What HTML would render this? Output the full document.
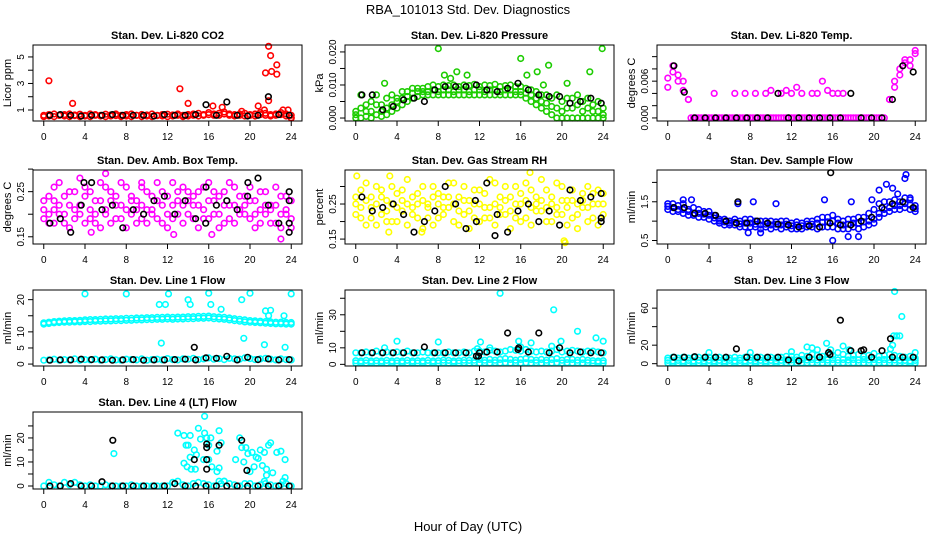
<!DOCTYPE html>
<html><head><meta charset="utf-8">
<style>
body{margin:0;background:#fff;}
svg{display:block;font-family:"Liberation Sans",Arial,sans-serif;}
</style></head>
<body>
<svg id="chart" width="936" height="540" viewBox="0 0 936 540">
<rect x="0" y="0" width="936" height="540" fill="#fff"/>
<text x="468" y="14" font-size="13" text-anchor="middle">RBA_101013  Std. Dev. Diagnostics</text>
<text x="468" y="531" font-size="13" text-anchor="middle">Hour of Day (UTC)</text>
</svg>
<script>
// ---------- data (hour-of-day series; even arrays span 0..24, black arrays span 0.6..23.8) ----------
const xTicks = [0,4,8,12,16,20,24];

const co2Red = [0.6,0.65,0.7,0.6,0.65,0.7,0.62,0.68,0.6,0.7,0.65,0.6,0.68,0.62,0.7,0.6,0.65,0.7,0.6,0.66,0.62,0.7,0.6,0.65,0.68,0.62,0.7,0.6,0.66,0.7,0.75,0.65,0.8,0.7,0.75,0.85,0.7,0.65,0.7,0.75,0.65,0.7,0.8,0.75,0.65,0.7,0.8,0.7,0.6];
const co2Red2 = [0.5,0.55,0.5,0.6,0.55,0.5,0.58,0.5,0.55,0.5,0.6,0.55,0.5,0.55,0.58,0.5,0.55,0.5,0.6,0.5,0.55,0.5,0.58,0.55,0.5,0.55,0.6,0.5,0.55,0.6,0.55,0.6,0.65,0.6,0.6,0.7,0.6,0.55,0.6,0.55,0.6,0.55,0.65,0.6,0.55,0.6,0.65,0.55,0.4];
const co2RedOut = [[0.5,3.2],[2.8,1.5],[13.2,2.6],[14,1.5],[16.4,1.3],[17.3,1.2],[20.8,1.3],[21.5,3.8],[21.8,5.8],[22,5.1],[22.1,3.9],[22.6,4.4],[22.6,3.7],[21.8,1.7],[19.2,0.9],[23.2,1],[23.7,1],[24,0.4],[21.4,1.0]];
const co2Black = [0.6,0.65,0.6,0.55,0.6,0.6,0.65,0.6,0.6,0.6,0.55,0.65,0.6,0.6,0.65,1.4,0.6,1.6,0.6,0.55,0.6,2.0,0.65,0.6];

const presLow = [0,0,0.0005,0,0.001,0.0005,0.001,0.002,0.003,0.004,0.005,0.006,0.0065,0.007,0.007,0.007,0.007,0.007,0.007,0.007,0.007,0.007,0.007,0.007,0.007,0.007,0.007,0.007,0.007,0.007,0.007,0.007,0.007,0.006,0.005,0.004,0.003,0.002,0.001,0,0,0,0,0,0,0,0,0,0];
const presHigh = [0.002,0.007,0.004,0.005,0.007,0.004,0.006,0.007,0.006,0.008,0.008,0.009,0.009,0.009,0.0095,0.01,0.0095,0.01,0.0098,0.01,0.0095,0.01,0.0098,0.0102,0.0095,0.01,0.0098,0.0102,0.0095,0.0098,0.01,0.0095,0.0095,0.009,0.0085,0.008,0.007,0.007,0.006,0.007,0.005,0.006,0.006,0.007,0.005,0.006,0.004,0.005,0.003];
const presMid = [0.001,0.003,0.002,0.002,0.004,0.002,0.003,0.004,0.005,0.006,0.0065,0.0075,0.008,0.008,0.008,0.0085,0.008,0.0085,0.0085,0.008,0.0085,0.0085,0.008,0.0085,0.0085,0.008,0.0085,0.0085,0.008,0.0085,0.0085,0.008,0.008,0.0075,0.007,0.006,0.005,0.0045,0.0035,0.003,0.002,0.003,0.003,0.004,0.002,0.003,0.002,0.002,0.001];
const presOut = [[8,0.021],[8.6,0.013],[9.8,0.014],[10.8,0.013],[16,0.018],[16.6,0.013],[17.6,0.014],[18.7,0.016],[20.5,0.0105],[22.7,0.014],[23.9,0.021],[2.8,0.0105],[9.2,0.012],[18.2,0.01]];
const presBlack = [0.007,0.007,0.0025,0.0035,0.0055,0.006,0.005,0.0085,0.0095,0.0095,0.0095,0.01,0.0085,0.008,0.009,0.0105,0.0085,0.007,0.0065,0.0065,0.0045,0.005,0.006,0.0045];

const tempMain = [0.005,0.0075,0.007,0.006,0.003,0,0,0,0,0,0,0,0,0,0,0,0,0,0,0,0,0,0,0,0,0,0,0,0,0,0,0,0,0,0,0,0,0,0,0,0,0,0,0.003,0.005,0.007,0.009,0.0095,0.011];
const tempZero = [null,null,null,null,0,0,0,0,0,0,0,0,0,0,0,0,0,0,0,0,0,0,0,0,0,0,0,0,0,0,0,0,0,0,0,0,0,0,0,0,0,0,null,null,null,null,null,null,null];
const tempAlt = [0.0065,0.0085,0.006,0.0045,0.003,null,null,null,null,0.004,null,null,null,0.004,null,0.004,null,0.004,null,0.004,0.0045,null,0.004,0.0045,0.004,0.005,0.004,null,0.004,0.004,0.006,0.0045,0.004,0.004,0.004,null,null,null,null,null,null,null,null,0.003,0.006,0.008,0.0095,0.0085,0.0105];
const tempBlack = [0.0085,0.0042,0,0,0,0,0,0,0,0,0.004,0,0,0,0,0,0,0.004,0,0,0,0.003,0.0085,0.0075];

const ambA = [0.19,0.24,0.21,0.27,0.18,0.22,0.25,0.20,0.26,0.19,0.23,0.27,0.21,0.18,0.24,0.22,0.26,0.20,0.23,0.19,0.25,0.21,0.27,0.18,0.24,0.22,0.20,0.26,0.23,0.19,0.25,0.21,0.27,0.20,0.24,0.18,0.22,0.26,0.21,0.24,0.19,0.23,0.25,0.20,0.22,0.18,0.24,0.21,0.23];
const ambB = [0.23,0.18,0.26,0.20,0.24,0.17,0.21,0.28,0.18,0.25,0.20,0.17,0.26,0.23,0.19,0.27,0.17,0.24,0.21,0.26,0.18,0.24,0.19,0.22,0.17,0.27,0.23,0.18,0.25,0.22,0.17,0.26,0.19,0.23,0.17,0.25,0.27,0.18,0.24,0.20,0.26,0.17,0.21,0.25,0.18,0.26,0.17,0.20,0.19];
const ambC = [0.21,0.2,0.23,0.22,0.2,0.25,0.19,0.22,0.24,0.21,0.18,0.23,0.2,0.25,0.22,0.19,0.21,0.23,0.18,0.22,0.21,0.2,0.23,0.25,0.2,0.19,0.25,0.22,0.2,0.24,0.22,0.19,0.23,0.25,0.2,0.22,0.19,0.22,0.2,0.22,0.23,0.2,0.18,0.22,0.21,0.22,0.2,0.24,0.17];
const ambOut = [[6,0.29],[13.8,0.305],[4.6,0.16],[16.3,0.155],[23,0.145],[12.6,0.155],[1,0.18],[9.5,0.27]];
const ambBlack = [0.18,0.19,0.16,0.22,0.27,0.21,0.22,0.17,0.21,0.2,0.23,0.24,0.2,0.23,0.19,0.26,0.22,0.23,0.21,0.24,0.28,0.22,0.18,0.16];
const ambBlackOut = [[23.8,0.25],[23.8,0.23],[23.8,0.18],[3.9,0.27],[15.7,0.18],[19.8,0.27]];

const rhA = [0.27,0.21,0.31,0.24,0.19,0.29,0.23,0.3,0.2,0.26,0.32,0.22,0.28,0.18,0.25,0.3,0.21,0.27,0.24,0.31,0.19,0.26,0.23,0.29,0.2,0.28,0.24,0.31,0.22,0.26,0.18,0.3,0.25,0.21,0.29,0.23,0.32,0.2,0.27,0.24,0.3,0.19,0.26,0.22,0.28,0.2,0.25,0.29,0.22];
const rhB = [0.22,0.29,0.19,0.27,0.3,0.22,0.26,0.2,0.28,0.23,0.19,0.27,0.21,0.3,0.24,0.19,0.28,0.22,0.31,0.2,0.27,0.3,0.18,0.25,0.29,0.21,0.32,0.19,0.27,0.3,0.23,0.21,0.28,0.31,0.19,0.27,0.23,0.29,0.2,0.31,0.22,0.26,0.29,0.18,0.24,0.3,0.21,0.19,0.28];
const rhC = [0.25,0.24,0.26,0.21,0.25,0.27,0.2,0.25,0.24,0.29,0.25,0.24,0.25,0.26,0.21,0.27,0.25,0.24,0.27,0.25,0.23,0.22,0.26,0.21,0.25,0.24,0.21,0.25,0.24,0.22,0.27,0.25,0.2,0.26,0.24,0.25,0.26,0.24,0.25,0.22,0.26,0.24,0.21,0.25,0.26,0.24,0.28,0.25,0.25];
const rhOut = [[0.1,0.33],[3.3,0.33],[16.9,0.34],[20.2,0.145],[20.3,0.14],[3.2,0.17],[6.4,0.17]];
const rhBlack = [0.27,0.23,0.24,0.25,0.22,0.17,0.2,0.23,0.3,0.25,0.18,0.2,0.31,0.22,0.17,0.23,0.25,0.2,0.23,0.19,0.29,0.26,0.27,0.2];
const rhBlackOut = [[23.8,0.28],[23.8,0.21],[11.6,0.26],[13.5,0.16]];

const flowHigh = [1.45,1.45,1.4,1.45,1.3,1.35,1.3,1.25,1.25,1.15,1.05,1.05,1.0,1.05,1.0,1.05,1.05,1.0,1.0,1.0,1.0,0.98,1.0,1.0,0.95,0.98,0.95,1.0,1.0,1.05,1.1,1.1,1.15,1.05,1.0,1.05,1.05,1.1,1.1,1.2,1.3,1.45,1.5,1.5,1.55,1.5,1.6,1.55,1.4];
const flowLow = [1.3,1.25,1.25,1.2,1.15,1.15,1.1,1.1,1.05,1.0,0.95,0.9,0.9,0.9,0.85,0.85,0.85,0.85,0.8,0.85,0.8,0.85,0.8,0.85,0.8,0.8,0.8,0.85,0.85,0.8,0.85,0.85,0.85,0.8,0.8,0.8,0.85,0.8,0.85,0.9,0.95,1.1,1.2,1.25,1.3,1.3,1.35,1.3,1.25];
const flowMid = [1.38,1.35,1.3,1.3,1.25,1.2,1.2,1.18,1.15,1.08,1.0,0.98,0.95,0.97,0.93,0.95,0.95,0.92,0.9,0.92,0.9,0.92,0.9,0.92,0.88,0.9,0.88,0.92,0.92,0.95,0.97,0.98,1.0,0.95,0.9,0.92,0.95,0.95,0.98,1.0,1.05,1.2,1.3,1.35,1.4,1.4,1.45,1.42,1.32];
const flowOut = [[1.5,1.55],[2.3,1.55],[6.8,1.45],[8.3,1.5],[10.5,1.45],[16,0.5],[15.2,1.55],[17.8,1.5],[17.5,0.6],[18.5,0.6],[19.8,1.55],[20.5,1.8],[21.2,1.95],[21.8,1.85],[22.3,1.7],[23,2.1],[23.1,2.2],[23.5,1.6],[7.8,0.7],[9,0.7]];
const flowBlack = [1.35,1.35,1.2,1.2,1.15,1.0,0.95,0.95,1.0,0.95,0.92,0.9,0.85,0.88,0.85,0.95,0.9,0.9,1.0,1.1,1.35,1.45,1.5,1.35];
const flowBlackOut = [[15.8,2.25],[6.8,1.5]];

const l1High = [12.8,13,13.2,13.3,13.4,13.5,13.5,13.6,13.7,13.8,13.8,13.9,14,14,14.1,14.1,14.2,14.2,14.3,14.3,14.4,14.4,14.5,14.5,14.6,14.5,14.6,14.6,14.7,14.7,14.8,14.8,14.9,14.7,14.6,14.5,14.3,14.1,13.9,13.7,13.5,13.4,13.3,13.2,13.1,13,13,12.9,12.9];
const l1High2 = [12.4,12.6,12.8,12.9,13,13,13.1,13.1,13.2,13.2,13.3,13.3,13.4,13.4,13.5,13.5,13.6,13.6,13.7,13.7,13.8,13.8,13.9,13.9,14,13.9,14,14,14.1,14.1,14.2,14.2,14.3,14.1,14,13.9,13.7,13.5,13.3,13.1,13,12.9,12.8,12.7,12.6,12.5,12.5,12.4,12.4];
const l1Low = [1.2,1.3,1.5,1.2,1.4,1.3,1.6,1.2,1.4,1.3,1.5,1.2,1.4,1.6,1.3,1.2,1.5,1.4,1.3,1.6,1.2,1.4,1.5,1.3,1.7,1.4,1.3,1.6,1.5,1.8,1.4,1.6,1.9,1.5,1.7,1.4,1.8,1.6,1.5,1.9,1.7,1.4,1.6,1.8,1.5,1.3,1.6,1.4,1.3];
const l1Out = [[4,21.8],[8,21.8],[11.2,18.5],[11.8,18.5],[12.1,21.8],[14,20],[14.2,18.5],[16,22],[16.2,18.5],[17.2,17],[19.2,20],[20,22],[21.5,16.5],[22,16.7],[23.3,15],[24,21.8],[11.4,6.5],[19.4,8],[21.4,6],[23.4,5.2],[21.8,15]];
const l1Black = [1.2,1.3,1.3,1.5,1.4,1.3,1.2,1.3,1.4,1.2,1.3,1.3,1.4,1.5,1.3,1.9,1.8,2.4,1.3,2.1,1.4,1.6,1.3,1.4];
const l1BlackOut = [[14.6,5.2]];

const l2High = [7,7,7.5,7,8,7,7.5,7,7.5,7,8,7,7,7.5,7,7,7,7,7.5,7,7,7.5,7,8,8,7.5,8.5,8,7.5,8,9,8.5,8,9,8,7.5,8,7.5,8,9,7.5,8,8.5,8,7.5,8,8,7.5,7];
const l2Low = [0.8,1,0.8,1,0.8,1,0.8,1,0.8,1,0.8,1,0.8,1,0.8,1,0.8,1,0.8,1,0.8,1,0.8,1,0.8,1,0.8,1,0.8,1,0.8,1,0.8,1,0.8,1,0.8,1,0.8,1,0.8,1,0.8,1,0.8,1,0.8,1,0.8];
const l2Mid = [2.2,2,2.4,2,2.2,2,2.4,2,2.2,2,2.4,2,2.2,2,2.4,2,2.2,2.5,2.4,2,2.2,2.5,2.4,2.5,3,2.5,3,2.5,3,3.5,3,2.5,3,3.5,3,2.5,3,2.5,3,3.5,2.5,3,3,2.5,3,2.5,2.2,2,2.2];
const l2Out = [[2.8,10],[4,14],[8,13.5],[11.8,9.5],[12.1,13.5],[13,10],[14,43],[15.8,14],[16,10.5],[17,13],[19,11],[19.2,33],[19.9,14],[21.5,20],[23.3,16],[24,14]];
const l2Black = [7,7,7,7,7,7,10.5,7,7,7,7,5,7.5,7.5,19,9,7.5,19,7,10,7,7.5,7,7];
const l2BlackOut = [[11.9,5],[12,7],[15.8,10]];

const l3High = [6,7,6,7,6,7,7,6,7,6,7,6,6,7,6,7,7,6,7,6,7,6,7,8,8,7,9,8,10,9,8,10,9,12,10,8,9,10,8,9,11,8,9,10,9,8,7,8,6];
const l3Low = [0.8,1,0.8,1,0.8,1,0.8,1,0.8,1,0.8,1,0.8,1,0.8,1,0.8,1,0.8,1,0.8,1,0.8,1,0.8,1,0.8,1,0.8,1,0.8,1,0.8,1,0.8,1,0.8,1,0.8,1,0.8,1,0.8,1,0.8,1,0.8,1,0.8];
const l3Mid = [3.5,3,3.5,3,3.5,3,3.5,3,3.5,3,3.5,3,3.5,3,3.5,3,3.5,3,3.5,3,3.5,3,3.5,4,4,4,4.5,4,4.5,4,4.5,4,4.5,4,4.5,4,4.5,4,4.5,4,4.5,4,4.5,4,4,3.5,3.5,3,3.5];
const l3Out = [[4,12],[8,12],[12,13],[13.5,18],[14,17],[14.5,15],[15.4,22],[15.8,15],[17,19],[17.6,15],[21.8,20],[21.9,30],[22,78],[22.2,30],[22.5,30],[22.7,51],[24,12],[21.6,16]];
const l3Black = [7,7,7.5,7,7,7,16,7,7,7,7,4,3,7,7,10,47,14,14,7,14,7,7,7];
const l3BlackOut = [[21.6,27],[15.6,12],[19,15]];

const l4Base = [0,1.5,0.5,0,1.5,0.5,1.5,0.5,0,0.5,0,0,0.5,0,0,0,0,0.5,0,0,0,0,0,0,0,1.5,2,0.5,0,1,1.5,1,0.5,0,2,2,1,0.5,0,1,1,0,0.5,1,0.5,0,0.5,1,0];
const l4Out = [[13,22],[13.6,21],[14.2,21],[13.8,17],[14,17],[15,24],[14.6,15],[14.8,13],[15.2,19.5],[15.6,29],[15.6,22],[15.8,20],[16,17],[16.2,20],[16.3,8],[16.8,14.5],[17,23],[17.2,18],[17,7.5],[16.8,6],[14.2,12],[13.9,8],[13.6,9.5],[14.3,7],[14.7,7],[15.5,11],[19,20],[19.2,16],[19.4,10],[19.6,16],[19.8,13.5],[20.2,14],[20.6,12],[20.8,11.5],[21,15],[21.2,8.5],[21.4,14],[21.6,4.5],[21.4,2],[21.6,7],[21.8,17],[22,18],[22.2,5.5],[22.6,14],[23,14.5],[23.4,11],[23.4,3.5],[6.8,13.5],[18.6,11],[20.4,8],[16,11],[20,6],[23.2,2],[17.5,2],[17.2,1]];
const l4Black = [0,0,1,0,0,1.8,0,0,0,0,0,0,1,0,0,0,0,0,0,0,0,0,0,0];
const l4BlackOut = [[6.7,19],[14.6,11],[15.8,17.5],[15.8,16],[15.8,11],[15.8,7],[17,17],[19.2,19],[19.7,6.5]];

// ---------- panel definitions ----------
const RED='#ff0000', GRN='#1ccc00', MAG='#ff00ff', YEL='#ffff00', BLU='#0000ff', CYN='#00ffff', BLK='#000000';
const panels = [
 {name:'co2',title:'Stan. Dev. Li-820 CO2',ylab:'Licor ppm',col:0,row:0,lo:0.17,hi:5.9,ticks:[1,2,3,4,5],labs:[1,3,5],fmt:v=>String(v),
  series:[{e:co2Red2,c:RED},{e:co2Red,c:RED},{p:co2RedOut,c:RED},{b:co2Black,c:BLK}]},
 {name:'pressure',title:'Stan. Dev. Li-820 Pressure',ylab:'kPa',col:1,row:0,lo:-0.0009,hi:0.0221,ticks:[0,0.005,0.01,0.015,0.02],labs:[0,0.01,0.02],fmt:v=>v.toFixed(3),
  series:[{e:presLow,c:GRN},{e:presMid,c:GRN},{e:presHigh,c:GRN},{p:presOut,c:GRN},{b:presBlack,c:BLK}]},
 {name:'temp',title:'Stan. Dev. Li-820 Temp.',ylab:'degrees C',col:2,row:0,lo:-0.0005,hi:0.0119,ticks:[0,0.002,0.004,0.006,0.008,0.010],labs:[0,0.006],fmt:v=>v.toFixed(3),
  series:[{e:tempMain,c:MAG},{o:tempZero,c:MAG},{e:tempAlt,c:MAG},{b:tempBlack,c:BLK}]},
 {name:'amb-box-temp',title:'Stan. Dev. Amb. Box Temp.',ylab:'degrees C',col:0,row:1,lo:0.134,hi:0.298,ticks:[0.15,0.2,0.25,0.3],labs:[0.15,0.25],fmt:v=>v.toFixed(2),
  series:[{e:ambA,c:MAG},{e:ambB,c:MAG},{e:ambC,c:MAG},{p:ambOut,c:MAG},{b:ambBlack,c:BLK},{p:ambBlackOut,c:BLK}]},
 {name:'gas-rh',title:'Stan. Dev. Gas Stream RH',ylab:'percent',col:1,row:1,lo:0.136,hi:0.347,ticks:[0.15,0.2,0.25,0.3],labs:[0.15,0.25],fmt:v=>v.toFixed(2),
  series:[{e:rhA,c:YEL},{e:rhB,c:YEL},{e:rhC,c:YEL},{p:rhOut,c:YEL},{b:rhBlack,c:BLK},{p:rhBlackOut,c:BLK}]},
 {name:'sample-flow',title:'Stan. Dev. Sample Flow',ylab:'ml/min',col:2,row:1,lo:0.41,hi:2.32,ticks:[0.5,1,1.5,2],labs:[0.5,1.5],fmt:v=>v.toFixed(1),
  series:[{e:flowLow,c:BLU},{e:flowMid,c:BLU},{e:flowHigh,c:BLU},{p:flowOut,c:BLU},{b:flowBlack,c:BLK},{p:flowBlackOut,c:BLK}]},
 {name:'line1-flow',title:'Stan. Dev. Line 1 Flow',ylab:'ml/min',col:0,row:2,lo:-0.6,hi:23,ticks:[0,5,10,15,20],labs:[0,5,10,20],fmt:v=>String(v),
  series:[{e:l1Low,c:CYN},{e:l1High2,c:CYN},{e:l1High,c:CYN},{p:l1Out,c:CYN},{b:l1Black,c:BLK},{p:l1BlackOut,c:BLK}]},
 {name:'line2-flow',title:'Stan. Dev. Line 2 Flow',ylab:'ml/min',col:1,row:2,lo:-1,hi:45,ticks:[0,10,20,30,40],labs:[0,10,30],fmt:v=>String(v),
  series:[{e:l2Low,c:CYN},{e:l2Mid,c:CYN},{e:l2High,c:CYN},{p:l2Out,c:CYN},{b:l2Black,c:BLK},{p:l2BlackOut,c:BLK}]},
 {name:'line3-flow',title:'Stan. Dev. Line 3 Flow',ylab:'ml/min',col:2,row:2,lo:-2.5,hi:79.6,ticks:[0,20,40,60],labs:[0,20,60],fmt:v=>String(v),
  series:[{e:l3Low,c:CYN},{e:l3Mid,c:CYN},{e:l3High,c:CYN},{p:l3Out,c:CYN},{b:l3Black,c:BLK},{p:l3BlackOut,c:BLK}]},
 {name:'line4-flow',title:'Stan. Dev. Line 4 (LT) Flow',ylab:'ml/min',col:0,row:3,lo:-1.25,hi:30.8,ticks:[0,5,10,15,20,25],labs:[0,10,20],fmt:v=>String(v),
  series:[{e:l4Base,c:CYN},{p:l4Out,c:CYN},{b:l4Black,c:BLK},{p:l4BlackOut,c:BLK}]}
];

// ---------- layout ----------
const colLeft = [33,345,657], boxW = 269;
const rowTop = [45,170,290,412], rowBot = [121,244,366,489];
const NS='http://www.w3.org/2000/svg';
const svg=document.getElementById('chart');
function mk(tag,attrs,parent){const e=document.createElementNS(NS,tag);for(const k in attrs)e.setAttribute(k,attrs[k]);(parent||svg).appendChild(e);return e;}

panels.forEach(P=>{
  const L=colLeft[P.col], R=L+boxW, T=rowTop[P.row], B=rowBot[P.row];
  const pad=boxW*0.04;
  const xs=h=>L+pad+(h/24)*(boxW-2*pad);
  const ys=v=>B-(v-P.lo)/(P.hi-P.lo)*(B-T);
  const g=mk('g',{});
  
  
  const tt=mk('text',{x:(L+R)/2,y:T-6,'font-size':11,'font-weight':'bold','text-anchor':'middle'},g);
  tt.textContent=P.title;
  
  
  const yl=mk('text',{x:L-22,y:(T+B)/2,'font-size':11,'text-anchor':'middle',transform:`rotate(-90 ${L-22} ${(T+B)/2})`},g);
  yl.textContent=P.ylab;
  
  
  const pts=mk('g',{fill:'none','stroke-width':1.6},g);
  
  
  const dot=(h,v,c)=>{ if(v===null||v===undefined)return; const y=ys(v); if(y<T-3||y>B+3)return;
    const ci=mk('circle',{cx:xs(h).toFixed(1),cy:y.toFixed(1),r:2.8,stroke:c},pts);
    
     };
  P.series.forEach(s=>{
    if(s.e){const n=s.e.length; s.e.forEach((v,i)=>dot(i*24/(n-1),v,s.c));}
    if(s.o){const n=s.o.length; s.o.forEach((v,i)=>dot(0.25+i*24/(n-1),v,s.c));}
    if(s.p){s.p.forEach(q=>dot(q[0],q[1],s.c));}
    if(s.b){const n=s.b.length; s.b.forEach((v,i)=>dot(0.6+i*23.2/(n-1),v,s.c));}
  });
  const bx=mk('rect',{x:L,y:T,width:boxW,height:B-T,fill:'none',stroke:'#000','stroke-width':1},g);
  
  
  const xa=mk('g',{},g);
  
  
  mk('line',{x1:xs(0),x2:xs(24),y1:B,y2:B,stroke:'#000'},xa);
  xTicks.forEach(t=>{
    mk('line',{x1:xs(t),x2:xs(t),y1:B,y2:B+5,stroke:'#000'},xa);
    const tx=mk('text',{x:xs(t),y:B+19,'font-size':10,'text-anchor':'middle'},xa);
    tx.textContent=t;
  });
  const ya=mk('g',{},g);
  
  
  mk('line',{x1:L,x2:L,y1:ys(P.ticks[0]),y2:ys(P.ticks[P.ticks.length-1]),stroke:'#000'},ya);
  P.ticks.forEach(t=>{
    mk('line',{x1:L-5,x2:L,y1:ys(t),y2:ys(t),stroke:'#000'},ya);
  });
  P.labs.forEach(t=>{
    const x=L-9, y=ys(t);
    const tx=mk('text',{x:x,y:y,'font-size':10,'text-anchor':'middle',transform:`rotate(-90 ${x} ${y})`},ya);
    tx.textContent=P.fmt(t);
  });
});
</script>
</body></html>
